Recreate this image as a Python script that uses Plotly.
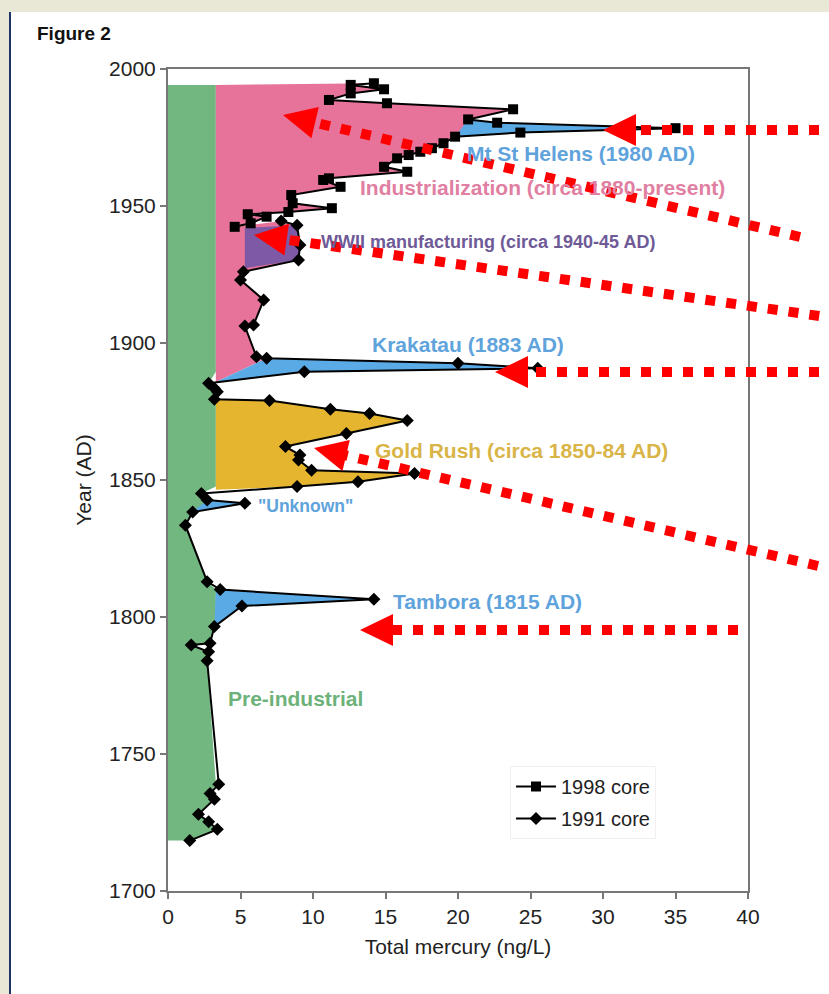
import numpy as np
import plotly.graph_objects as go

# ---- Data: total mercury (ng/L) by year, two ice cores ----
core1998_year = [1994.8, 1994.2, 1992.6, 1991.1, 1988.7, 1987.5, 1985.3, 1981.6, 1980.4,
                 1978.4, 1976.8, 1975.3, 1972.9, 1971.1, 1969.8, 1968.6, 1967.4, 1964.3,
                 1962.5, 1960.1, 1959.5, 1957.0, 1954.0, 1951.0, 1949.2, 1947.8, 1947.0,
                 1946.1, 1943.7, 1942.4]
core1998_hg = [14.2, 12.6, 14.9, 12.6, 11.1, 15.1, 23.8, 20.7, 22.7,
               35.0, 24.3, 19.8, 19.0, 18.2, 17.4, 16.6, 15.8, 14.9,
               16.5, 11.1, 10.7, 11.9, 8.5, 8.6, 11.3, 8.3, 5.5,
               6.8, 5.7, 4.6]

core1991_year = [1944.5, 1943.0, 1935.8, 1930.3, 1926.0, 1923.0, 1915.7, 1906.6, 1906.2,
                 1895.0, 1894.4, 1892.6, 1890.8, 1889.5, 1885.3, 1883.5, 1882.2, 1879.5,
                 1879.0, 1875.8, 1874.3, 1871.7, 1867.0, 1862.2, 1859.1, 1857.3, 1853.6,
                 1852.4, 1849.4, 1847.6, 1845.1, 1842.7, 1841.5, 1838.3, 1833.5, 1812.9,
                 1810.0, 1806.5, 1804.0, 1796.5, 1790.4, 1789.8, 1787.3, 1784.0, 1739.0,
                 1735.6, 1733.5, 1728.0, 1725.3, 1722.5, 1718.4]
core1991_hg = [7.8, 8.9, 9.1, 9.0, 5.2, 5.0, 6.6, 5.9, 5.3,
               6.1, 6.8, 20.0, 25.5, 9.4, 2.8, 3.2, 3.4, 3.2,
               7.0, 11.2, 13.9, 16.5, 12.3, 8.1, 9.1, 9.0, 9.9,
               17.0, 13.1, 8.9, 2.3, 2.7, 5.3, 1.7, 1.2, 2.7,
               3.6, 14.2, 5.1, 3.2, 2.9, 1.6, 2.8, 2.7, 3.5,
               2.9, 3.2, 2.1, 2.8, 3.4, 1.5]

# Background level and era boundaries (years)
baseline_hg = 3.3
record_top = 1994.2
wwii_floor_hg = 5.3
krakatau_foot = 1885.8
goldrush_top, goldrush_bottom = 1879.5, 1846.4
tambora_top = 1810.5

# Era shading labels
era_labels = ["Mt St Helens (1980 AD)", "Industrialization (circa 1880-present)",
              "WWII manufacturing (circa 1940-45 AD)", "Krakatau (1883 AD)",
              "Gold Rush (circa 1850-84 AD)", "\"Unknown\"", "Tambora (1815 AD)",
              "Pre-industrial"]
era_label_x = [28.5, 25.8, 22.1, 20.7, 24.4, 9.5, 22.0, 8.8]
era_label_y = [1969.3, 1956.9, 1936.9, 1899.6, 1860.9, 1840.5, 1805.8, 1770.4]

GREEN, PINK, PURPLE, GOLD, BLUE = "#72b77f", "#e7739b", "#7d59a6", "#e5b52f", "#5aaae6"
era_label_colors = ["#5fa3dc", "#e07fa2", "#6e5a97", "#5fa3dc", "#d9b446", "#5fa3dc",
                    "#5fa3dc", "#6db27a"]
era_label_sizes = [21, 21, 18, 21, 21, 17.5, 21, 21]

y98 = np.array(core1998_year)
h98 = np.array(core1998_hg)
y91 = np.array(core1991_year)
h91 = np.array(core1991_hg)


def sel(years, vals, hi, lo):
    m = (years <= hi) & (years >= lo)
    return list(vals[m]), list(years[m])


fig = go.Figure()


def add_fill(xs, ys, color):
    fig.add_trace(go.Scatter(x=xs, y=ys, fill="toself", fillcolor=color, mode="lines",
                             line=dict(width=0), hoverinfo="skip", showlegend=False))


# Pre-industrial background band, bounded on the right by the 1991 core where it is low
gx = [0, baseline_hg] + list(np.minimum(h91, baseline_hg)) + [0]
gy = [record_top, record_top] + list(y91) + [y91[-1]]
add_fill(gx, gy, GREEN)

# Industrialization: baseline out to the 1998 core, then the 1991 core down to Krakatau
hx91, hy91 = sel(y91, h91, 1945, 1894.4)
px = [baseline_hg] + list(h98) + hx91 + [baseline_hg]
py = [record_top] + list(y98) + hy91 + [krakatau_foot]
add_fill(px, py, PINK)

# WWII manufacturing
wx, wy = sel(y91, h91, 1944, 1930)
add_fill([wwii_floor_hg] + wx + [wwii_floor_hg], [wy[0] - 1.0] + wy + [wy[-1] - 3.0], PURPLE)

# Gold Rush
gx2, gy2 = sel(y91, h91, 1879.2, 1847)
add_fill([baseline_hg] + gx2 + [baseline_hg], [goldrush_top] + gy2 + [goldrush_bottom], GOLD)

# Volcanic spikes
kx, ky = sel(y91, h91, 1894.5, 1889)
add_fill(kx + [baseline_hg], ky + [krakatau_foot], BLUE)
sx, sy = sel(y98, h98, 1981.7, 1975)
add_fill(sx, sy, BLUE)
ux, uy = sel(y91, h91, 1843, 1838)
add_fill(ux, uy, BLUE)
tx, ty = sel(y91, h91, 1810.5, 1796)
add_fill([baseline_hg] + tx, [tambora_top] + ty, BLUE)

# Core profiles
fig.add_trace(go.Scatter(x=core1998_hg, y=core1998_year, mode="lines+markers", name="1998 core",
                         line=dict(color="black", width=2),
                         marker=dict(symbol="square", size=10, color="black"),
                         legendgroup="a"))
fig.add_trace(go.Scatter(x=core1991_hg, y=core1991_year, mode="lines+markers", name="1991 core",
                         line=dict(color="black", width=2),
                         marker=dict(symbol="diamond", size=10, color="black"),
                         legendgroup="b"))

for t, x, y, c, s in zip(era_labels, era_label_x, era_label_y, era_label_colors, era_label_sizes):
    fig.add_annotation(x=x, y=y, text=t, showarrow=False, xanchor="center", yanchor="middle",
                       font=dict(family="Liberation Sans, Arial", size=s, color=c, weight=700))

# ---- Page furniture in pixel space ----
W, H = 829, 994
L, R, T, B = 168, 748, 69, 891


def pxx(v):
    return (v - L) / (R - L)


def pxy(v):
    return (B - v) / (B - T)


shapes = []
# white panel with a navy rule on its left edge
shapes.append(dict(type="rect", xref="paper", yref="paper", x0=pxx(10), x1=pxx(840),
                   y0=pxy(12), y1=pxy(1000), fillcolor="white", line=dict(width=0),
                   layer="below"))
shapes.append(dict(type="line", xref="paper", yref="paper", x0=pxx(10), x1=pxx(10),
                   y0=pxy(12), y1=pxy(1000), line=dict(color="#1d3566", width=2),
                   layer="below"))

# red dotted pointers (tail -> tip, pixels)
pointers = [((840, 130), (603, 130)), ((800, 237), (283, 115)), ((840, 319), (254, 235)),
            ((840, 372), (495, 372)), ((818, 566), (314, 448)), ((738, 630), (360, 630))]
head_len, head_half = 33, 16
for (x0, y0), (x1, y1) in pointers:
    d = np.array([x1 - x0, y1 - y0], float)
    d /= np.hypot(*d)
    n = np.array([-d[1], d[0]])
    tip = np.array([x1, y1], float)
    base = tip - head_len * d
    shapes.append(dict(type="line", xref="paper", yref="paper",
                       x0=pxx(x0), y0=pxy(y0), x1=pxx(base[0] + 4 * d[0]), y1=pxy(base[1] + 4 * d[1]),
                       line=dict(color="#ff0000", width=10, dash="10px,11px"), layer="above"))
    c1 = base + head_half * n
    c2 = base - head_half * n
    path = "M {} {} L {} {} L {} {} Z".format(pxx(tip[0]), pxy(tip[1]), pxx(c1[0]), pxy(c1[1]),
                                              pxx(c2[0]), pxy(c2[1]))
    shapes.append(dict(type="path", xref="paper", yref="paper", path=path,
                       fillcolor="#ff0000", line=dict(width=0), layer="above"))

fig.add_annotation(xref="paper", yref="paper", x=pxx(35), y=pxy(33), text="Figure 2",
                   showarrow=False, xanchor="left", yanchor="middle",
                   font=dict(family="Liberation Sans, Arial", size=19, color="#111", weight=700))

axis_font = dict(family="Liberation Sans, Arial", size=21, color="#222")
title_font = dict(family="Liberation Sans, Arial", size=21, color="#222")
fig.update_layout(
    width=W, height=H,
    margin=dict(l=L, r=W - R, t=T, b=H - B, pad=0),
    paper_bgcolor="#e9e7d6", plot_bgcolor="white",
    shapes=shapes,
    font=axis_font,
    xaxis=dict(range=[0, 40], dtick=5, ticks="outside", ticklen=6, tickwidth=2,
               tickcolor="#777", showline=True, linecolor="#777", linewidth=2, mirror=True,
               showgrid=False, zeroline=False, tickfont=axis_font,
               title=dict(text="Total mercury (ng/L)", font=title_font, standoff=12)),
    yaxis=dict(range=[1700, 2000], dtick=50, ticks="outside", ticklen=6, tickwidth=2,
               tickcolor="#777", showline=True, linecolor="#777", linewidth=2, mirror=True,
               showgrid=False, zeroline=False, tickfont=axis_font,
               title=dict(text="Year (AD)", font=title_font, standoff=12)),
    legend=dict(x=pxx(510), y=pxy(766), xanchor="left", yanchor="top",
                bgcolor="white", bordercolor="#f0f0f0", borderwidth=1,
                font=dict(family="Liberation Sans, Arial", size=20, color="#222"),
                tracegroupgap=3, itemwidth=40, entrywidth=200),
    showlegend=True,
)

fig.write_html("out.html")
